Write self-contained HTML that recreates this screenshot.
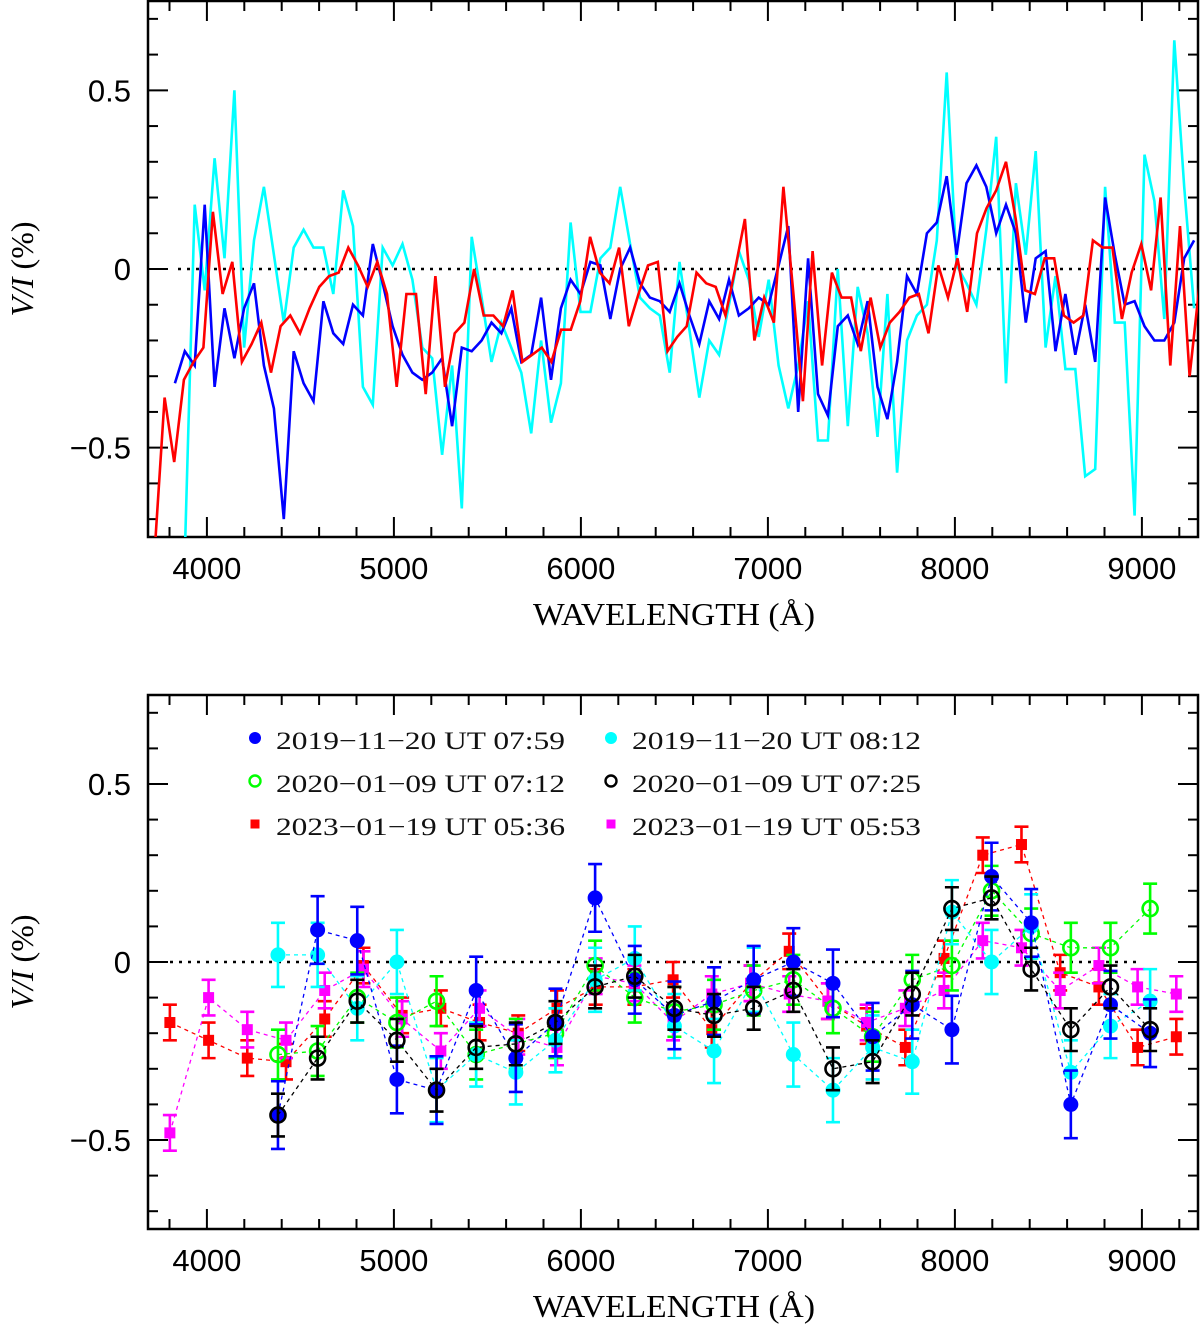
<!DOCTYPE html>
<html><head><meta charset="utf-8"><style>
html,body{margin:0;padding:0;background:#fff;}
svg{display:block;}
</style></head><body>
<svg id="chart" xmlns="http://www.w3.org/2000/svg" width="1200" height="1327" viewBox="0 0 1200 1327">
<g id="top"></g>
<g id="bot"></g>
</svg>
<script>
// ---- Top panel data ----
const topWl = [3829,3882,3935,3988,4041,4094,4147,4199,4252,4305,4358,4411,4464,4517,4570,4623,4676,4729,4781,4834,4887,4940,4993,5046,5099,5152,5205,5258,5311,5363,5416,5469,5522,5575,5628,5681,5734,5787,5840,5893,5945,5998,6051,6104,6157,6210,6263,6316,6369,6422,6475,6527,6580,6633,6686,6739,6792,6845,6898,6951,7004,7057,7109,7162,7215,7268,7321,7374,7427,7480,7533,7586,7639,7691,7744,7797,7850,7903,7956,8009,8062,8115,8168,8221,8273,8326,8379,8432,8485,8538,8591,8644,8697,8750,8803,8855,8908,8961,9014,9067,9120,9173,9226,9279];
const topBlue = [-0.32,-0.23,-0.27,0.18,-0.33,-0.11,-0.25,-0.11,-0.04,-0.27,-0.39,-0.70,-0.23,-0.32,-0.37,-0.09,-0.18,-0.21,-0.10,-0.13,0.07,-0.04,-0.16,-0.24,-0.29,-0.31,-0.29,-0.25,-0.44,-0.22,-0.23,-0.20,-0.15,-0.18,
 -0.11,-0.26,-0.24,-0.08,-0.31,-0.11,-0.03,-0.07,0.02,0.01,-0.14,0.00,0.06,-0.04,-0.08,-0.09,-0.12,-0.04,-0.13,-0.21,-0.09,-0.14,-0.03,-0.13,-0.11,-0.08,-0.10,0.01,0.12,-0.40,0.03,-0.35,-0.41,-0.16,-0.13,-0.21,
 -0.09,-0.33,-0.42,-0.26,-0.02,-0.07,0.10,0.13,0.26,0.04,0.24,0.29,0.23,0.10,0.18,0.10,-0.15,0.03,0.05,-0.23,-0.07,-0.24,-0.10,-0.26,0.20,0.04,-0.10,-0.09,-0.16,-0.20,-0.20,-0.15,0.03,0.08];
const topCyan = [-0.80,0.18,-0.06,0.31,0.03,0.50,-0.22,0.08,0.23,0.04,-0.15,0.06,0.11,0.06,0.06,-0.07,0.22,0.12,-0.33,-0.38,0.06,0.01,0.07,-0.03,-0.22,-0.25,-0.52,-0.27,-0.67,0.09,-0.08,-0.26,-0.15,
 -0.22,-0.29,-0.46,-0.20,-0.43,-0.32,0.13,-0.12,-0.12,0.03,0.06,0.23,0.07,-0.08,-0.11,-0.13,-0.29,0.02,-0.17,-0.36,-0.20,-0.24,-0.10,0.05,-0.03,-0.19,-0.03,-0.27,-0.39,-0.27,-0.09,-0.48,-0.48,0.00,-0.44,-0.05,
 -0.18,-0.47,-0.07,-0.57,-0.20,-0.13,-0.10,0.08,0.55,0.01,-0.04,-0.10,0.11,0.37,-0.32,0.24,0.04,0.33,-0.22,-0.02,-0.28,-0.28,-0.58,-0.56,0.23,-0.15,-0.15,-0.69,0.32,0.19,-0.14,0.64,0.23,-0.11];
const topRedWl = [3722,3774,3825,3877,3929,3981,4032,4084,4136,4187,4239,4291,4343,4394,4446,4498,4549,4601,4653,4705,4756,4808,4860,4911,4963,5015,5067,5118,5170,5222,5273,5325,5377,5429,5480,5532,5584,5635,5687,5739,5791,5842,5894,5946,5997,6049,6101,6153,6204,6256,6308,6359,6411,6463,6515,6566,6618,6670,6721,6773,6825,6877,6928,6980,7032,7083,7135,7187,7239,7290,7342,7394,7445,7497,7549,7601,7652,7704,7756,7807,7859,7911,7963,8014,8066,8118,8169,8221,8273,8325,8376,8428,8480,8531,8583,8635,8687,8738,8790,8842,8893,8945,8997,9049,9100,9152,9204,9255,9307];
const topRed = [-0.78,-0.36,-0.54,-0.31,-0.26,-0.22,0.16,-0.07,0.02,-0.26,-0.21,-0.15,-0.29,-0.16,-0.13,-0.18,-0.11,-0.05,-0.02,-0.01,0.06,0.01,-0.05,0.02,-0.07,-0.33,-0.07,-0.07,-0.35,-0.02,-0.33,-0.18,-0.15,0.00,-0.13,-0.13,-0.16,
 -0.06,-0.26,-0.24,-0.22,-0.26,-0.17,-0.17,-0.09,0.09,-0.01,-0.04,0.06,-0.16,-0.07,0.01,0.02,-0.23,-0.19,-0.16,-0.01,-0.04,-0.05,-0.13,0.00,0.14,-0.20,-0.08,-0.15,0.23,-0.06,-0.37,0.05,-0.27,-0.01,-0.08,-0.08,
 -0.23,-0.08,-0.22,-0.15,-0.12,-0.08,-0.07,-0.18,0.01,-0.08,0.03,-0.12,0.10,0.17,0.22,0.30,0.14,-0.06,-0.07,0.03,0.03,-0.13,-0.15,-0.13,0.08,0.06,0.06,-0.14,-0.01,0.07,-0.06,0.20,-0.27,0.12,-0.30,-0.05];

// ---- Bottom panel data ----
const botWl = [4380,4592,4804,5016,5228,5440,5652,5864,6076,6288,6500,6712,6924,7136,7348,7560,7772,7984,8196,8408,8620,8832,9044];
const botBlue  = [-0.43,0.09,0.06,-0.33,-0.36,-0.08,-0.27,-0.17,0.18,-0.05,-0.15,-0.11,-0.05,0.00,-0.06,-0.21,-0.12,-0.19,0.24,0.11,-0.40,-0.12,-0.20];
const botCyan  = [0.02,0.02,-0.13,0.00,-0.36,-0.26,-0.31,-0.22,-0.05,0.01,-0.18,-0.25,-0.05,-0.26,-0.36,-0.24,-0.28,0.14,0.00,0.10,-0.31,-0.18,-0.11];
const botGreen = [-0.26,-0.25,-0.10,-0.17,-0.11,-0.26,-0.23,-0.20,-0.01,-0.10,-0.14,-0.12,-0.08,-0.05,-0.13,-0.21,-0.05,-0.01,0.20,0.08,0.04,0.04,0.15];
const botBlack = [-0.43,-0.27,-0.11,-0.22,-0.36,-0.24,-0.23,-0.17,-0.07,-0.04,-0.13,-0.15,-0.13,-0.08,-0.30,-0.28,-0.09,0.15,0.18,-0.02,-0.19,-0.07,-0.19];
const botSqWl = [3802,4009,4216,4423,4630,4837,5044,5251,5458,5665,5872,6079,6286,6493,6700,6907,7114,7321,7528,7735,7942,8149,8356,8563,8770,8977,9184];
const botRed     = [-0.17,-0.22,-0.27,-0.28,-0.16,-0.01,-0.15,-0.13,-0.17,-0.20,-0.13,-0.07,-0.07,-0.05,-0.19,-0.06,0.03,-0.11,-0.18,-0.24,0.01,0.30,0.33,-0.03,-0.07,-0.24,-0.21];
const botMagenta = [-0.48,-0.10,-0.19,-0.22,-0.08,-0.02,-0.16,-0.25,-0.13,-0.21,-0.24,-0.04,-0.06,-0.17,-0.09,-0.06,-0.09,-0.11,-0.17,-0.13,-0.08,0.06,0.04,-0.08,-0.01,-0.07,-0.09];
const errBlue = 0.095, errCyan = 0.09, errGreen = 0.07, errBlack = 0.06, errRed = 0.05, errMagenta = 0.05;

const xTicks = [4000,5000,6000,7000,8000,9000];
const yTicks = [0.5,0,-0.5];
const legendLabels = ["2019\u221211\u221220 UT 07:59","2019\u221211\u221220 UT 08:12","2020\u221201\u221209 UT 07:12","2020\u221201\u221209 UT 07:25","2023\u221201\u221219 UT 05:36","2023\u221201\u221219 UT 05:53"];

const NS="http://www.w3.org/2000/svg";
function mk(tag,attrs,parent){const e=document.createElementNS(NS,tag);for(const k in attrs)e.setAttribute(k,attrs[k]);parent.appendChild(e);return e;}
const L=148,R=1198,XMIN=3685,XMAX=9300;
function sx(w){return L+(w-XMIN)/(XMAX-XMIN)*(R-L);}

function panel(g,top,bot,zeroY,pfx,zeroFrom,zeroTo){
  const sy=v=>zeroY-v*((bot-top)/1.5);
  // clip
  const cp=mk('clipPath',{id:pfx+'clip'},g);
  mk('rect',{x:L,y:top,width:R-L,height:bot-top},cp);
  const f=mk('rect',{x:L,y:top,width:R-L,height:bot-top,fill:'none',stroke:'#000','stroke-width':2.5},g);
  
  // x ticks
  for(let w=3800;w<=9300;w+=200){
    const major=w%1000===0, len=major?20:10, x=sx(w);
    const t1=mk('line',{x1:x,y1:bot,x2:x,y2:bot-len,stroke:'#000','stroke-width':2},g);
    
    const t2=mk('line',{x1:x,y1:top,x2:x,y2:top+len,stroke:'#000','stroke-width':2},g);
    
  }
  for(let i=-7;i<=7;i++){
    const v=i/10, major=(i%5===0), len=major?20:10, y=sy(v);
    const t1=mk('line',{x1:L,y1:y,x2:L+len,y2:y,stroke:'#000','stroke-width':2},g);
    
    const t2=mk('line',{x1:R,y1:y,x2:R-len,y2:y,stroke:'#000','stroke-width':2},g);
    
  }
  xTicks.forEach(w=>{
    const t=mk('text',{x:sx(w),y:bot+42,'text-anchor':'middle','font-family':'Liberation Sans, sans-serif','font-size':31},g);
    t.textContent=w;
    
  });
  yTicks.forEach(v=>{
    const t=mk('text',{x:131,y:sy(v)+11,'text-anchor':'end','font-family':'Liberation Sans, sans-serif','font-size':31},g);
    t.textContent=v===0?'0':(v<0?'\u2212'+Math.abs(v):String(v));
    
  });
  const xt=mk('text',{x:674,y:bot+88,'text-anchor':'middle','font-family':'Liberation Serif, serif','font-size':32,textLength:282,lengthAdjust:'spacingAndGlyphs'},g);
  xt.textContent='WAVELENGTH (\u00c5)';
  
  const yt=mk('text',{x:0,y:0,'text-anchor':'middle','font-family':'Liberation Serif, serif','font-size':32,transform:`translate(33,${zeroY}) rotate(-90)`},g);
  yt.innerHTML='<tspan font-style="italic">V/I</tspan> (%)';
  
  const z=mk('line',{x1:zeroFrom,y1:sy(0),x2:zeroTo,y2:sy(0),stroke:'#000','stroke-width':2.5,'stroke-dasharray':'3,6'},g);
  
  return sy;
}

// top
const gt=document.getElementById('top');
const syT=panel(gt,1,537,269,'t',178,1198);
const gtc=mk('g',{'clip-path':'url(#tclip)'},gt);
function line(g,wl,vals,color,name,sy){
  const pts=vals.map((v,i)=>sx(wl[i]).toFixed(1)+','+sy(v).toFixed(1)).join(' ');
  const p=mk('polyline',{points:pts,fill:'none',stroke:color,'stroke-width':2.6,'stroke-linejoin':'miter'},g);
  
}
line(gtc,topWl.slice(1),topCyan,'#00ffff','cyan-spectrum-line',syT);
line(gtc,topWl,topBlue,'#0000ff','blue-spectrum-line',syT);
line(gtc,topRedWl,topRed,'#ff0000','red-spectrum-line',syT);

// bottom
const gb=document.getElementById('bot');
const syB=panel(gb,695,1229,962,'b',170,1140);
const gbc=mk('g',{'clip-path':'url(#bclip)'},gb);
function series(g,wl,vals,err,color,marker,name){
  const sg=mk('g',{},g);
  
  const pts=vals.map((v,i)=>sx(wl[i]).toFixed(1)+','+syB(v).toFixed(1)).join(' ');
  const dl=mk('polyline',{points:pts,fill:'none',stroke:color,'stroke-width':1.3,'stroke-dasharray':'4,4'},sg);
  
  vals.forEach((v,i)=>{
    const x=sx(wl[i]),y1=syB(v+err),y2=syB(v-err),y=syB(v);
    const eb=mk('path',{d:`M${x},${y1}V${y2}M${x-7},${y1}H${x+7}M${x-7},${y2}H${x+7}`,stroke:color,'stroke-width':2.6,fill:'none'},sg);
    
    let m;
    if(marker==='dot')m=mk('circle',{cx:x,cy:y,r:7.5,fill:color},sg);
    else if(marker==='ring')m=mk('circle',{cx:x,cy:y,r:7.5,fill:'none',stroke:color,'stroke-width':2.6},sg);
    else m=mk('rect',{x:x-5.5,y:y-5.5,width:11,height:11,fill:color},sg);
    
  });
}
series(gbc,botSqWl,botRed,errRed,'#ff0000','sq','series-2023-0536');
series(gbc,botSqWl,botMagenta,errMagenta,'#ff00ff','sq','series-2023-0553');
series(gbc,botWl,botGreen,errGreen,'#00ff00','ring','series-2020-0712');
series(gbc,botWl,botCyan,errCyan,'#00ffff','dot','series-2019-0812');
series(gbc,botWl,botBlue,errBlue,'#0000ff','dot','series-2019-0759');
series(gbc,botWl,botBlack,errBlack,'#000000','ring','series-2020-0725');

// legend
const lg=mk('g',{},gb);

const legColors=['#0000ff','#00ffff','#00ff00','#000000','#ff0000','#ff00ff'];
const legMarkers=['dot','dot','ring','ring','sq','sq'];
legendLabels.forEach((lab,i)=>{
  const col=i%2,row=Math.floor(i/2);
  const mx=col?611:255, ty=740+row*43, tx=col?632:276;
  const e=mk('g',{},lg);
  
  let m;
  if(legMarkers[i]==='dot')m=mk('circle',{cx:mx,cy:ty-2,r:6,fill:legColors[i]},e);
  else if(legMarkers[i]==='ring')m=mk('circle',{cx:mx,cy:ty-2,r:5.5,fill:'none',stroke:legColors[i],'stroke-width':2.4},e);
  else m=mk('rect',{x:mx-4.5,y:ty-6.5,width:9,height:9,fill:legColors[i]},e);
  
  const t=mk('text',{x:tx,y:ty+9,'font-family':'Liberation Serif, serif','font-size':25,textLength:289,lengthAdjust:'spacingAndGlyphs',fill:'#111'},e);
  t.textContent=lab;
  
});
</script>
</body></html>
